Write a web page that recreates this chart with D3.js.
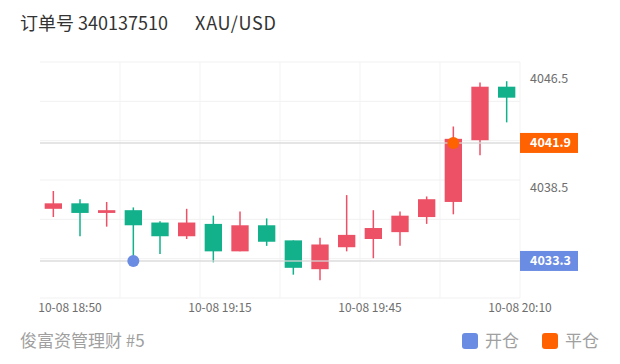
<!DOCTYPE html>
<html>
<head>
<meta charset="utf-8">
<script src="https://cdn.jsdelivr.net/npm/d3@7/dist/d3.min.js"></script>
<style>
  body { margin: 0; background: #fff; }
  svg { display: block; font-family: "Noto Sans CJK SC", "Noto Sans", sans-serif; }
</style>
</head>
<body>
<div id="chart"></div>
<script>
// Candle data (5 min bars)
let opens  = [4037.1, 4037.5, 4036.8, 4037.0, 4036.1, 4035.1, 4036.0, 4034.0, 4035.9, 4034.8, 4032.7, 4034.3, 4034.9, 4035.4, 4036.5, 4037.6, 4042.1, 4046.0];
let closes = [4037.5, 4036.8, 4037.0, 4035.9, 4035.1, 4036.1, 4034.0, 4035.9, 4034.7, 4032.8, 4034.5, 4035.2, 4035.7, 4036.6, 4037.8, 4042.2, 4046.0, 4045.2];
let highs  = [4038.4, 4037.8, 4037.6, 4037.2, 4036.2, 4037.1, 4036.6, 4036.9, 4036.4, 4034.8, 4035.0, 4038.1, 4037.0, 4036.9, 4038.0, 4043.1, 4046.3, 4046.4];
let lows   = [4036.5, 4035.1, 4035.8, 4033.3, 4033.8, 4034.9, 4033.2, 4034.0, 4034.4, 4032.3, 4031.9, 4034.0, 4033.5, 4034.4, 4036.0, 4036.7, 4041.0, 4043.4];

let xTickLabels = ['10-08 18:50', '10-08 19:15', '10-08 19:45', '10-08 20:10'];
let yTickValues = [4046.5, 4038.5];

// trade markers: [candle index, price]
let openTrade  = [3, 4033.3];
let closeTrade = [15, 4041.9];

let legendNames = ['开仓', '平仓'];

// Layout
let svgWidth = 620;
let svgHeight = 364;
let margins = { top: 62, bottom: 66, left: 40, right: 100 };
let plotHeight = svgHeight - margins.top - margins.bottom;
let plotWidth = svgWidth - margins.left - margins.right;

let upColor = '#ec5166';
let downColor = '#12b08b';
let openColor = '#6a8ce2';
let closeColor = '#ff6200';

let svg = d3.select('#chart').append('svg')
    .attr('width', svgWidth)
    .attr('height', svgHeight);

let chart = svg.append('g')
    .attr('transform', `translate(${margins.left}, ${margins.top})`);

let xScale = d3.scaleBand()
    .domain(d3.range(opens.length))
    .range([0, plotWidth]);
let yScale = d3.scaleLinear()
    .domain([4030.6, 4047.8])
    .range([plotHeight, 0]);

// Grid lines (6 splits each way)
let ySplits = d3.range(7).map(i => yScale.domain()[0] + i * (yScale.domain()[1] - yScale.domain()[0]) / 6);
chart.selectAll('line.hgrid')
    .data(ySplits).enter()
    .append('line')
    .attr('class', 'hgrid')
    .attr('x1', 0).attr('x2', plotWidth)
    .attr('y1', d => yScale(d)).attr('y2', d => yScale(d))
    .attr('stroke', '#f1f1f1');
let xSplits = d3.range(1, 7).map(i => i * plotWidth / 6);
chart.selectAll('line.vgrid')
    .data(xSplits).enter()
    .append('line')
    .attr('class', 'vgrid')
    .attr('x1', d => d).attr('x2', d => d)
    .attr('y1', 0).attr('y2', plotHeight)
    .attr('stroke', '#f3f3f3');

// Candles
let bodyWidth = xScale.bandwidth() * 0.65;
let candles = chart.selectAll('g.candle')
    .data(opens.map((o, i) => ({ i: i, o: o, c: closes[i], h: highs[i], l: lows[i] })))
    .enter()
    .append('g')
    .attr('class', 'candle')
    .attr('transform', d => `translate(${xScale(d.i) + xScale.bandwidth() / 2}, 0)`);

candles.append('line')
    .attr('y1', d => yScale(d.h))
    .attr('y2', d => yScale(d.l))
    .attr('stroke', d => d.c >= d.o ? upColor : downColor)
    .attr('stroke-width', 1.5);

candles.append('rect')
    .attr('x', -bodyWidth / 2)
    .attr('width', bodyWidth)
    .attr('y', d => yScale(Math.max(d.o, d.c)))
    .attr('height', d => Math.max(1.5, Math.abs(yScale(d.o) - yScale(d.c))))
    .attr('fill', d => d.c >= d.o ? upColor : downColor);

// Mark lines for trade prices
[openTrade, closeTrade].forEach(t => {
    chart.append('line')
        .attr('x1', 0).attr('x2', plotWidth)
        .attr('y1', yScale(t[1])).attr('y2', yScale(t[1]))
        .attr('stroke', '#d6d6d6')
        .attr('stroke-opacity', 0.85)
        .attr('stroke-width', 1.5);
});

// Trade points
[[openTrade, openColor], [closeTrade, closeColor]].forEach(p => {
    chart.append('circle')
        .attr('cx', xScale(p[0][0]) + xScale.bandwidth() / 2)
        .attr('cy', yScale(p[0][1]))
        .attr('r', 6)
        .attr('fill', p[1]);
});

// Y axis labels
chart.selectAll('text.ytick')
    .data(yTickValues).enter()
    .append('text')
    .attr('class', 'ytick')
    .attr('x', plotWidth + 10)
    .attr('y', d => yScale(d) - 1.5)
    .attr('dy', '0.35em')
    .attr('font-size', 12.5)
    .attr('fill', '#6e6e6e')
    .text(d => d.toFixed(1));

// Price tags
[[openTrade, openColor], [closeTrade, closeColor]].forEach(p => {
    let y = yScale(p[0][1]);
    chart.append('rect')
        .attr('x', plotWidth)
        .attr('y', y - 10)
        .attr('width', 58)
        .attr('height', 20)
        .attr('fill', p[1]);
    chart.append('text')
        .attr('x', plotWidth + 10)
        .attr('y', y)
        .attr('dy', '0.35em')
        .attr('font-size', 12.5)
        .attr('font-weight', 'bold')
        .attr('fill', '#fff')
        .text(p[0][1].toFixed(1));
});

// X axis labels
let xLabelScale = d3.scalePoint()
    .domain(xTickLabels)
    .range([30, plotWidth]);
chart.selectAll('text.xtick')
    .data(xTickLabels).enter()
    .append('text')
    .attr('class', 'xtick')
    .attr('x', d => xLabelScale(d))
    .attr('y', plotHeight + 14)
    .attr('text-anchor', 'middle')
    .attr('font-size', 12)
    .attr('fill', '#6e6e6e')
    .text(d => d);

// Title
let title = svg.append('text')
    .attr('y', 30)
    .attr('font-size', 18)
    .attr('fill', '#333');
title.append('tspan').attr('x', 20).text('订单号 340137510');
title.append('tspan').attr('x', 195).attr('textLength', 81).text('XAU/USD');

// Footer
svg.append('text')
    .attr('x', 20)
    .attr('y', 347)
    .attr('font-size', 17)
    .attr('fill', '#a0a0a0')
    .text('俊富资管理财 #5');

// Legend
let legend = svg.selectAll('g.legend')
    .data(legendNames).enter()
    .append('g')
    .attr('class', 'legend')
    .attr('transform', (d, i) => `translate(${462 + i * 80}, 333)`);
legend.append('rect')
    .attr('width', 16).attr('height', 16)
    .attr('rx', 3)
    .attr('fill', (d, i) => i === 0 ? openColor : closeColor);
legend.append('text')
    .attr('x', 23)
    .attr('y', 14)
    .attr('font-size', 17)
    .attr('fill', '#a0a0a0')
    .text(d => d);
</script>
</body>
</html>
